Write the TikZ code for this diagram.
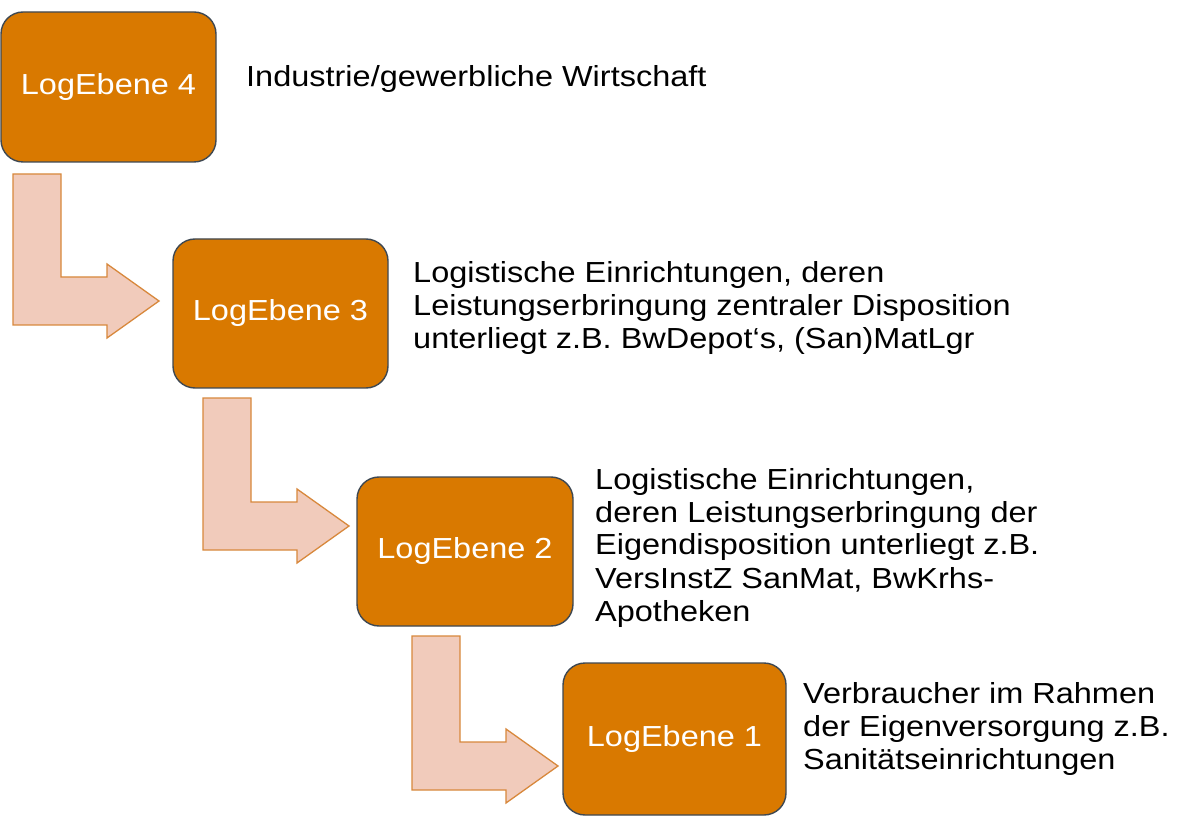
\documentclass[tikz,border=0pt]{standalone}
\usepackage{fontspec}
\setmainfont{Liberation Sans}[FakeStretch=1.12]
\definecolor{boxfill}{RGB}{217,121,0}
\definecolor{boxline}{RGB}{62,72,82}
\definecolor{arrfill}{RGB}{241,203,187}
\definecolor{arrline}{RGB}{216,136,60}
\tikzset{
  levelbox/.style={draw=boxline, line width=1.4pt, fill=boxfill, rounded corners=22pt,
    text=white, font=\fontsize{29}{33}\selectfont, inner sep=0pt, minimum height=150pt},
  desc/.style={anchor=base west, inner sep=0pt, text=black},
  arrowsty/.style={draw=arrline, fill=arrfill, line width=1.3pt, line join=miter}
}
\newcommand\desctext[1]{\begin{minipage}[t]{700pt}\fontsize{29}{33}\selectfont\raggedright #1\end{minipage}}
\newcommand\bentarrow[3]{\draw[arrowsty] (#1,#2) -- ++(48,0) -- ++(0,#3) -- ++(46,0) -- ++(0,-13) -- ++(52,37) -- ++(-52,37) -- ++(0,-13) -- ++(-94,0) -- cycle;}
\begin{document}
\begin{tikzpicture}[x=1pt,y=-1pt]
\useasboundingbox (0,0) rectangle (1200,818);
\fill[white] (0,0) rectangle (1200,818);
% boxes
\node[levelbox, minimum width=215pt] (b4) at (108.5,87) {LogEbene 4};
\node[levelbox, minimum width=215pt, minimum height=149pt] (b3) at (280.5,313.5) {LogEbene 3};
\node[levelbox, minimum width=216pt, minimum height=149pt] (b2) at (465,551.5) {LogEbene 2};
\node[levelbox, minimum width=223pt, minimum height=152pt] (b1) at (674.5,739) {LogEbene 1};
% bent arrows
\bentarrow{13}{174}{103}
\bentarrow{203}{398}{104}
\bentarrow{412}{636}{106}
% descriptions
\node[desc] (t4) at (246,87) {\desctext{Industrie/gewerbliche Wirtschaft}};
\node[desc] (t3) at (413,283) {\desctext{Logistische Einrichtungen, deren\\Leistungserbringung zentraler Disposition\\unterliegt z.B. BwDepot‘s, (San)MatLgr}};
\node[desc] (t2) at (595,489) {\desctext{Logistische Einrichtungen,\\deren Leistungserbringung der\\Eigendisposition unterliegt z.B.\\VersInstZ SanMat, BwKrhs-\\Apotheken}};
\node[desc] (t1) at (803,703) {\desctext{Verbraucher im Rahmen\\der Eigenversorgung z.B.\\Sanitätseinrichtungen}};
\end{tikzpicture}
\end{document}
